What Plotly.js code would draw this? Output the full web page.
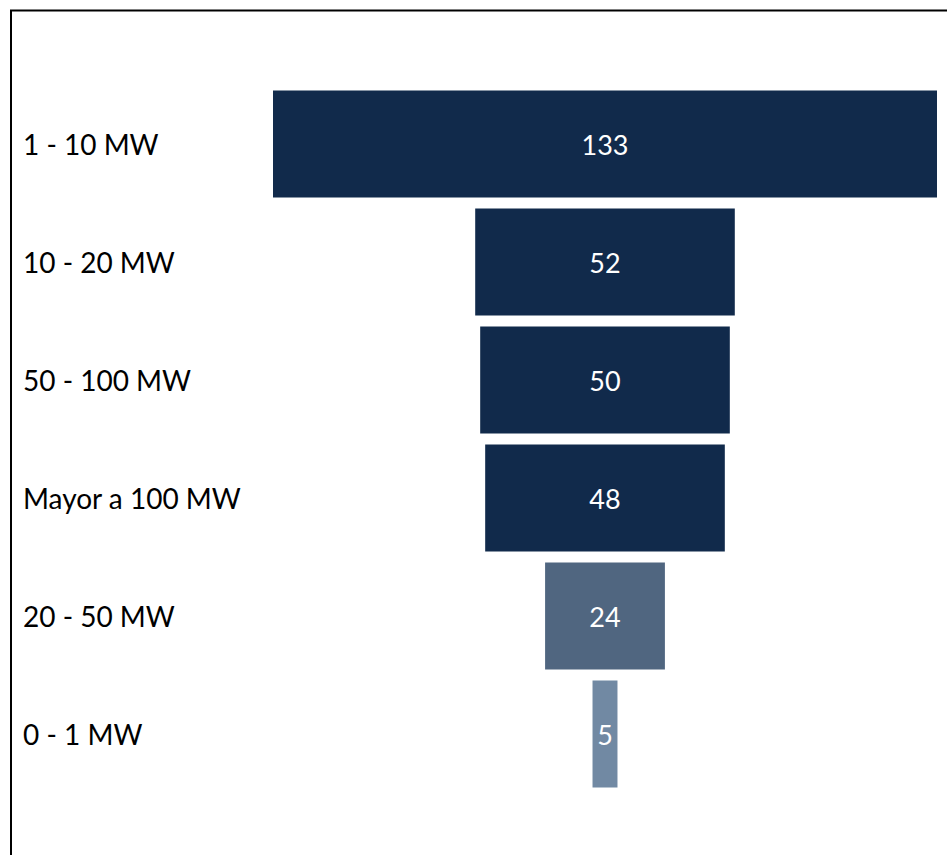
<!DOCTYPE html>
<html>
<head>
<meta charset="utf-8">
<script src="https://cdn.plot.ly/plotly-3.0.1.min.js"></script>
<style>
  html, body { margin: 0; padding: 0; background: #ffffff; }
  #chart { width: 947px; height: 855px; }
</style>
</head>
<body>
<div id="chart"></div>
<script>
const categories = ["1 - 10 MW", "10 - 20 MW", "50 - 100 MW", "Mayor a 100 MW", "20 - 50 MW", "0 - 1 MW"];
const values = [133, 52, 50, 48, 24, 5];
const barColors = ["#112A4B", "#112A4B", "#112A4B", "#112A4B", "#506680", "#7189A3"];

const W = 947, H = 855;
const mL = 273, mR = 10, mT = 84.5, mB = 62;
const pw = W - mL - mR, ph = H - mT - mB;
const px2paperX = px => (px - mL) / pw;
const px2paperY = py => (H - mB - py) / ph;

const trace = {
  type: "funnel",
  y: categories,
  x: values,
  orientation: "h",
  marker: { color: barColors, line: { width: 0 } },
  connector: { visible: false },
  textinfo: "value",
  textposition: "inside",
  insidetextanchor: "middle",
  textfont: { family: "Lato, sans-serif", size: 27, color: "#ffffff" },
  constraintext: "none",
  hoverinfo: "skip"
};

const annotations = categories.map(c => ({
  xref: "paper", yref: "y",
  x: px2paperX(21), y: c,
  xanchor: "left", yanchor: "middle",
  text: c, showarrow: false,
  font: { family: "Lato, sans-serif", size: 28, color: "#000000" }
}));

const layout = {
  width: W, height: H,
  margin: { l: mL, r: mR, t: mT, b: mB, pad: 0 },
  paper_bgcolor: "#ffffff",
  plot_bgcolor: "#ffffff",
  showlegend: false,
  funnelgap: 0.093,
  xaxis: { range: [-66.5, 66.5], visible: false, fixedrange: true },
  yaxis: { showticklabels: false, showgrid: false, zeroline: false, showline: false, ticks: "" , fixedrange: true},
  annotations: annotations,
  shapes: [{
    type: "rect", xref: "paper", yref: "paper",
    x0: px2paperX(11), x1: px2paperX(1000),
    y0: px2paperY(900), y1: px2paperY(10),
    line: { color: "#000000", width: 2 }, fillcolor: "rgba(0,0,0,0)"
  }]
};

Plotly.newPlot("chart", [trace], layout, { displayModeBar: false, staticPlot: true });
</script>
</body>
</html>
